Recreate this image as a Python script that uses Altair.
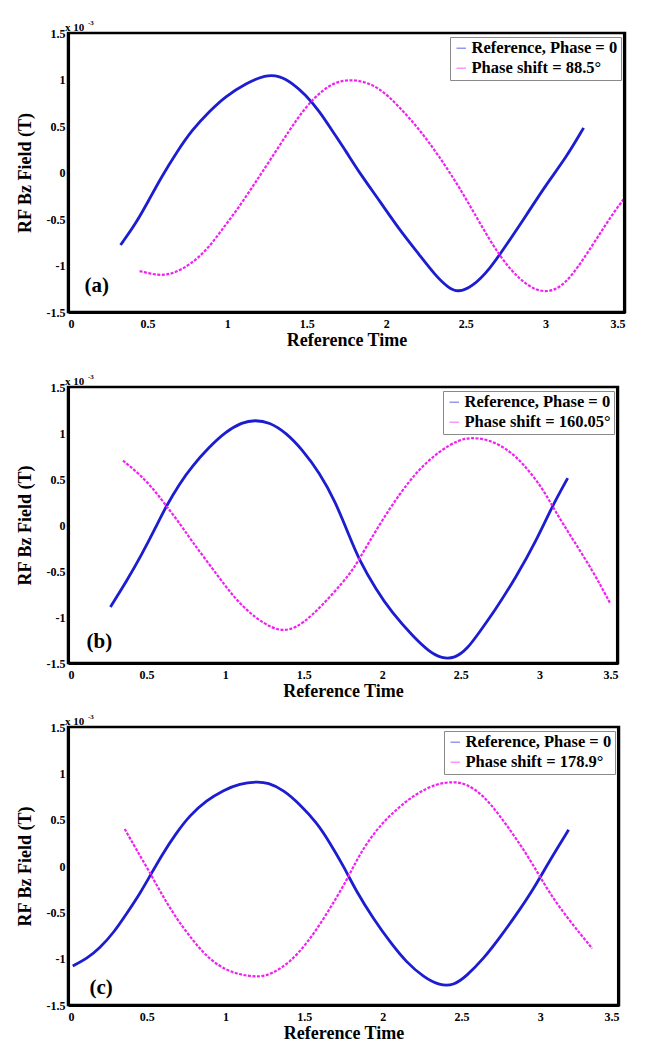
import altair as alt
import pandas as pd

# ---------------- data (values in units of 1e-3 T) ----------------
a_blue_x = [0.33, 0.43, 0.51, 0.59, 0.68, 0.78, 0.89, 0.99, 1.12, 1.24, 1.33, 1.41, 1.49, 1.58, 1.66, 1.75, 1.83,
            1.96, 2.08, 2.21, 2.31, 2.39, 2.45, 2.54, 2.65, 2.75, 2.88, 3.00, 3.13, 3.24]
a_blue_y = [-0.78, -0.54, -0.29, -0.04, 0.21, 0.46, 0.66, 0.82, 0.96, 1.05, 1.04, 0.96, 0.84, 0.66, 0.45, 0.22, 0.0,
            -0.31, -0.61, -0.89, -1.11, -1.24, -1.29, -1.23, -1.04, -0.79, -0.46, -0.14, 0.16, 0.48]
a_mag_x = [0.45, 0.57, 0.66, 0.76, 0.87, 0.97, 1.08, 1.18, 1.28, 1.39, 1.49, 1.60, 1.70, 1.83, 1.96, 2.08, 2.21,
           2.33, 2.46, 2.58, 2.71, 2.84, 2.96, 3.07, 3.17, 3.30, 3.42, 3.49]
a_mag_y = [-1.06, -1.11, -1.09, -1.00, -0.84, -0.61, -0.36, -0.10, 0.16, 0.45, 0.70, 0.89, 0.99, 1.0, 0.91, 0.71, 0.46,
           0.18, -0.16, -0.52, -0.90, -1.16, -1.29, -1.27, -1.11, -0.77, -0.45, -0.29]

b_blue_x = [0.27, 0.37, 0.47, 0.56, 0.62, 0.71, 0.79, 0.90, 1.00, 1.11, 1.19, 1.28, 1.39, 1.49, 1.60, 1.70, 1.79,
            1.85, 1.96, 2.06, 2.20, 2.30, 2.38, 2.46, 2.54, 2.62, 2.72, 2.85, 2.98, 3.08, 3.18]
b_blue_y = [-0.89, -0.62, -0.32, -0.02, 0.19, 0.45, 0.64, 0.85, 1.01, 1.12, 1.14, 1.12, 1.0, 0.82, 0.57, 0.26, -0.12,
            -0.37, -0.70, -0.95, -1.22, -1.38, -1.45, -1.45, -1.35, -1.16, -0.92, -0.57, -0.17, 0.20, 0.51]
b_mag_x = [0.35, 0.45, 0.54, 0.62, 0.71, 0.79, 0.90, 1.00, 1.09, 1.20, 1.30, 1.37, 1.45, 1.55, 1.68, 1.80, 1.85,
           1.98, 2.11, 2.23, 2.36, 2.49, 2.57, 2.68, 2.81, 2.91, 3.02, 3.10, 3.21, 3.34, 3.45]
b_mag_y = [0.70, 0.56, 0.40, 0.22, 0.02, -0.18, -0.43, -0.66, -0.85, -1.02, -1.12, -1.15, -1.12, -0.99, -0.76, -0.52,
           -0.38, 0.0, 0.34, 0.60, 0.80, 0.93, 0.95, 0.93, 0.81, 0.64, 0.40, 0.15, -0.15, -0.50, -0.85]

c_blue_x = [0.03, 0.12, 0.20, 0.29, 0.37, 0.46, 0.53, 0.60, 0.69, 0.77, 0.88, 0.99, 1.09, 1.20, 1.27, 1.37, 1.47,
            1.58, 1.66, 1.75, 1.83, 1.94, 2.05, 2.15, 2.26, 2.36, 2.45, 2.53, 2.64, 2.74, 2.85, 2.96, 3.06, 3.18]
c_blue_y = [-1.08, -1.0, -0.89, -0.72, -0.52, -0.29, -0.08, 0.13, 0.36, 0.54, 0.71, 0.82, 0.89, 0.91, 0.90, 0.82, 0.67,
            0.47, 0.26, 0.0, -0.27, -0.57, -0.83, -1.04, -1.20, -1.29, -1.29, -1.19, -1.0, -0.78, -0.52, -0.24, 0.06, 0.39]
c_mag_x = [0.36, 0.43, 0.52, 0.60, 0.69, 0.80, 0.90, 1.01, 1.11, 1.22, 1.30, 1.41, 1.52, 1.62, 1.71, 1.79, 1.85,
           1.96, 2.09, 2.21, 2.34, 2.45, 2.53, 2.64, 2.74, 2.85, 2.96, 3.06, 3.19, 3.33]
c_mag_y = [0.40, 0.19, -0.07, -0.32, -0.57, -0.82, -1.01, -1.13, -1.18, -1.20, -1.16, -1.04, -0.83, -0.58, -0.33, -0.09,
           0.12, 0.40, 0.62, 0.78, 0.89, 0.91, 0.89, 0.76, 0.55, 0.29, 0.0, -0.30, -0.60, -0.89]

ref_label = "Reference, Phase = 0"
shift_labels = ["Phase shift = 88.5°", "Phase shift = 160.05°", "Phase shift = 178.9°"]
panel_letters = ["(a)", "(b)", "(c)"]
letter_x = [0.18, 0.20, 0.21]
letter_y = [-1.22, -1.27, -1.32]

x_ticks = [0, 0.5, 1, 1.5, 2, 2.5, 3, 3.5]
y_ticks = [-1.5, -1, -0.5, 0, 0.5, 1, 1.5]

X_LIM = [0, 3.5]
Y_LIM = [-1.5, 1.5]

BLUE = "#1c1cd0"
MAG = "#f21ff2"
FONT = "Liberation Serif"


def panel(bx, by, mx, my, shift_label, letter, lx, ly, W, H):
    df = pd.concat([
        pd.DataFrame({"t": bx, "v": by, "series": ref_label}),
        pd.DataFrame({"t": mx, "v": my, "series": shift_label}),
    ])
    xs = alt.Scale(domain=X_LIM, nice=False, zero=False)
    ys = alt.Scale(domain=Y_LIM, nice=False, zero=False)
    xax = alt.Axis(values=x_ticks, labelExpr="'' + datum.value", title="Reference Time", grid=False,
                   ticks=False, domain=True, domainColor="black", domainWidth=3,
                   labelPadding=6, titlePadding=2,
                   labelFont=FONT, labelFontWeight="bold", labelFontSize=12,
                   titleFont=FONT, titleFontWeight="bold", titleFontSize=18, titleColor="black", labelColor="black")
    yax = alt.Axis(values=y_ticks, labelExpr="'' + datum.value", title="RF Bz Field (T)", grid=False,
                   ticks=False, domain=True, domainColor="black", domainWidth=3,
                   labelPadding=3, titlePadding=12,
                   labelFont=FONT, labelFontWeight="bold", labelFontSize=12,
                   titleFont=FONT, titleFontWeight="bold", titleFontSize=18, titleColor="black", labelColor="black")
    ref_line = alt.Chart(df[df.series == ref_label]).mark_line(
        interpolate="basis", color=BLUE, strokeWidth=2.8).encode(
        x=alt.X("t:Q", scale=xs, axis=xax), y=alt.Y("v:Q", scale=ys, axis=yax),
        color=alt.Color("series:N", scale=alt.Scale(domain=[ref_label, shift_label], range=[BLUE, MAG]),
                        legend=alt.Legend(title=None, orient="top-right", offset=4, padding=3,
                                          strokeColor="#8a8a8a", fillColor="white",
                                          labelFont=FONT, labelFontWeight="bold", labelFontSize=16.5,
                                          labelColor="black", symbolType="stroke", symbolSize=90,
                                          symbolStrokeWidth=1.5, symbolOpacity=0.45, rowPadding=3,
                                          labelOffset=2)))
    sh_line = alt.Chart(df[df.series == shift_label]).mark_line(
        interpolate="basis", strokeWidth=2.2, strokeDash=[3, 1.5]).encode(
        x=alt.X("t:Q", scale=xs), y=alt.Y("v:Q", scale=ys), color="series:N")

    # frame: filled strips along the four axis limits
    fr = pd.DataFrame({
        "x1": [0.0, 0.0, 0.0, 3.487],
        "x2": [3.5, 3.5, 0.013, 3.5],
        "y1": [-1.5, 1.49, -1.5, -1.5],
        "y2": [-1.49, 1.5, 1.5, 1.5],
    })
    frame = alt.Chart(fr).mark_rect(color="black", opacity=1).encode(
        x=alt.X("x1:Q", scale=xs), x2="x2:Q", y=alt.Y("y1:Q", scale=ys), y2="y2:Q")

    lab = alt.Chart(pd.DataFrame({"t": [lx], "v": [ly], "s": [letter]})).mark_text(
        font=FONT, fontWeight="bold", fontSize=21, align="center", baseline="middle", color="black"
    ).encode(x=alt.X("t:Q", scale=xs), y=alt.Y("v:Q", scale=ys), text="s:N")
    exp1 = alt.Chart(pd.DataFrame({"s": ["x 10"]})).mark_text(
        font=FONT, fontWeight="bold", fontSize=11, align="left", baseline="alphabetic", color="black"
    ).encode(x=alt.value(-3), y=alt.value(-2), text="s:N")
    exp2 = alt.Chart(pd.DataFrame({"s": ["-3"]})).mark_text(
        font=FONT, fontWeight="bold", fontSize=7, align="left", baseline="alphabetic", color="black"
    ).encode(x=alt.value(20), y=alt.value(-8), text="s:N")
    return alt.layer(ref_line, sh_line, frame, lab, exp1, exp2).properties(width=W, height=H)


pa = panel(a_blue_x, a_blue_y, a_mag_x, a_mag_y, shift_labels[0], panel_letters[0], letter_x[0], letter_y[0], 557, 279)
pb = panel(b_blue_x, b_blue_y, b_mag_x, b_mag_y, shift_labels[1], panel_letters[1], letter_x[1], letter_y[1], 550, 276)
pc = panel(c_blue_x, c_blue_y, c_mag_x, c_mag_y, shift_labels[2], panel_letters[2], letter_x[2], letter_y[2], 551, 278)

chart = alt.vconcat(alt.vconcat(pa, pb, spacing=20).resolve_scale(color="independent"),
                    pc, spacing=9).resolve_scale(color="independent").properties(
    padding={"left": 6, "top": 9, "right": 2, "bottom": 0},
    background="white",
).configure_view(stroke="black", strokeWidth=2.5)

chart.save("out.html", embed_options={"renderer": "svg", "actions": False})
